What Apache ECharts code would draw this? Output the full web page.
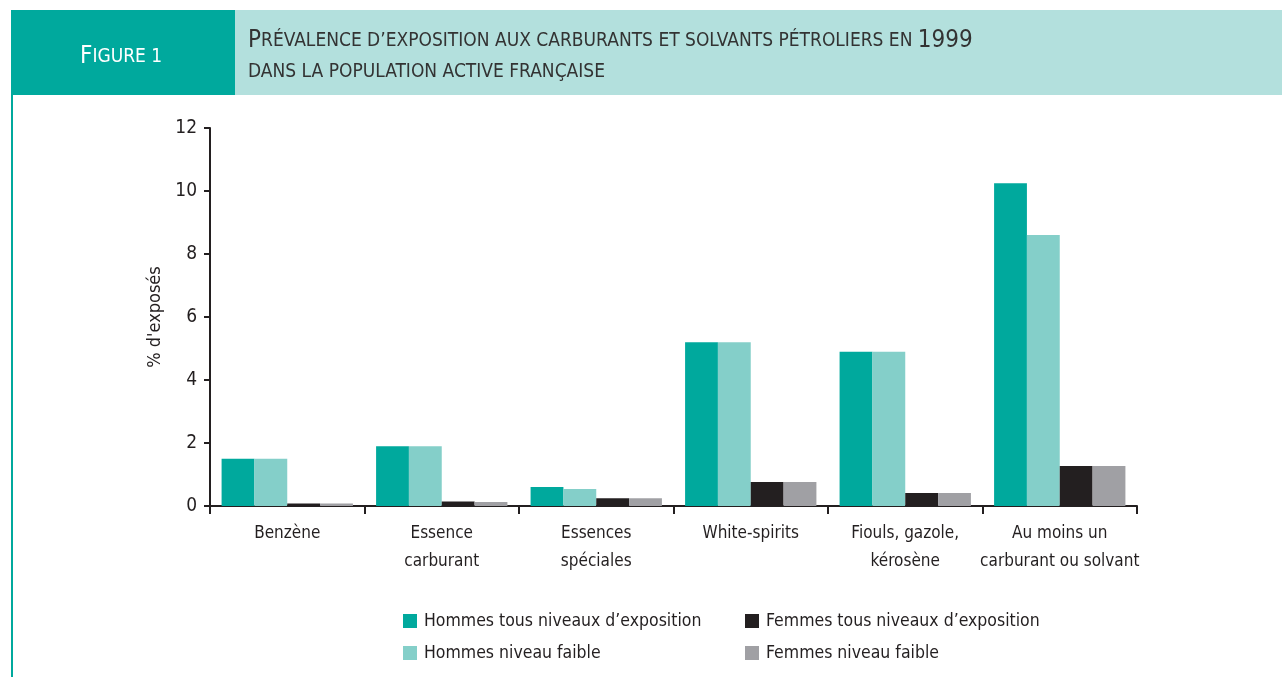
<!DOCTYPE html>
<html>
<head>
<meta charset="utf-8">
<script src="https://cdn.jsdelivr.net/npm/echarts@6/dist/echarts.min.js"></script>
<style>
  html, body { margin: 0; padding: 0; background: #fff; }
  #main { width: 1282px; height: 677px; }
</style>
</head>
<body>
<div id="main"></div>
<script>
// données
const categories = ['Benzène', 'Essence\ncarburant', 'Essences\nspéciales', 'White-spirits', 'Fiouls, gazole,\nkérosène', 'Au moins un\ncarburant ou solvant']
const hommesTous = [1.5, 1.9, 0.6, 5.2, 4.9, 10.25]
const hommesFaible = [1.5, 1.9, 0.54, 5.2, 4.9, 8.6]
const femmesTous = [0.08, 0.14, 0.25, 0.76, 0.41, 1.27]
const femmesFaible = [0.08, 0.13, 0.25, 0.76, 0.41, 1.27]
const yTicks = [0, 2, 4, 6, 8, 10, 12]

const font = '"Liberation Sans Narrow", "DejaVu Sans Condensed", sans-serif'
const colors = ['#00a99d', '#84cfc9', '#231f20', '#a0a0a4']

let chart = echarts.init(document.getElementById('main'), null, { renderer: 'canvas' })

function makeSeries(name, data) {
  return {
    name: name,
    type: 'bar',
    data: data,
    barGap: '0%',
    barCategoryGap: '15%'
  }
}

const legendText = { fontSize: 17.5, color: '#231f20', fontFamily: font, padding: [0, 0, 0, 2] }

let option = {
  animation: false,
  color: colors,
  textStyle: { fontFamily: font },
  graphic: [
    // bandeau du titre
    { type: 'rect', shape: { x: 11, y: 10, width: 224, height: 85 }, style: { fill: '#00a99d' } },
    { type: 'rect', shape: { x: 235, y: 10, width: 1047, height: 85 }, style: { fill: '#b3e0dd' } },
    { type: 'rect', shape: { x: 11, y: 95, width: 2, height: 582 }, style: { fill: '#00a99d' } },
    {
      type: 'text', left: 80, top: 45,
      style: {
        text: '{a|F}{b|IGURE 1}',
        rich: {
          a: { fontSize: 24, fill: '#fff', fontFamily: font },
          b: { fontSize: 19, fill: '#fff', fontFamily: font }
        }
      }
    },
    {
      type: 'text', left: 248, top: 29,
      style: {
        text: '{a|P}{b|RÉVALENCE D’EXPOSITION AUX CARBURANTS ET SOLVANTS PÉTROLIERS EN }{a|1999}\n{b|DANS LA POPULATION ACTIVE FRANÇAISE}',
        rich: {
          a: { fontSize: 24, fill: '#333', fontFamily: font, lineHeight: 31 },
          b: { fontSize: 19, fill: '#333', fontFamily: font, lineHeight: 31 }
        }
      }
    }
  ],
  legend: [
    {
      data: ['Hommes tous niveaux d’exposition', 'Hommes niveau faible'],
      orient: 'vertical', left: 398, top: 607, itemGap: 14,
      itemWidth: 14, itemHeight: 14, icon: 'rect',
      textStyle: legendText
    },
    {
      data: ['Femmes tous niveaux d’exposition', 'Femmes niveau faible'],
      orient: 'vertical', left: 740, top: 607, itemGap: 14,
      itemWidth: 14, itemHeight: 14, icon: 'rect',
      textStyle: legendText
    }
  ],
  grid: { left: 210, right: 145, top: 128, bottom: 171, containLabel: false },
  xAxis: {
    type: 'category',
    data: categories,
    axisLine: { lineStyle: { color: '#231f20', width: 2 } },
    axisTick: { show: true, length: 8, lineStyle: { color: '#231f20', width: 2 } },
    axisLabel: { color: '#231f20', fontSize: 17, lineHeight: 28, margin: 14, fontFamily: font, interval: 0 }
  },
  yAxis: {
    type: 'value',
    min: yTicks[0],
    max: yTicks[yTicks.length - 1],
    interval: 2,
    name: '% d\'exposés',
    nameLocation: 'middle',
    nameGap: 46,
    nameRotate: 90,
    nameTextStyle: { color: '#231f20', fontSize: 18, fontFamily: font },
    axisLine: { show: true, lineStyle: { color: '#231f20', width: 2 } },
    axisTick: { show: true, length: 6, lineStyle: { color: '#231f20', width: 2 } },
    axisLabel: { color: '#231f20', fontSize: 19, margin: 13, fontFamily: font },
    splitLine: { show: false }
  },
  series: [
    makeSeries('Hommes tous niveaux d’exposition', hommesTous),
    makeSeries('Hommes niveau faible', hommesFaible),
    makeSeries('Femmes tous niveaux d’exposition', femmesTous),
    makeSeries('Femmes niveau faible', femmesFaible)
  ]
}

chart.setOption(option)
</script>
</body>
</html>
